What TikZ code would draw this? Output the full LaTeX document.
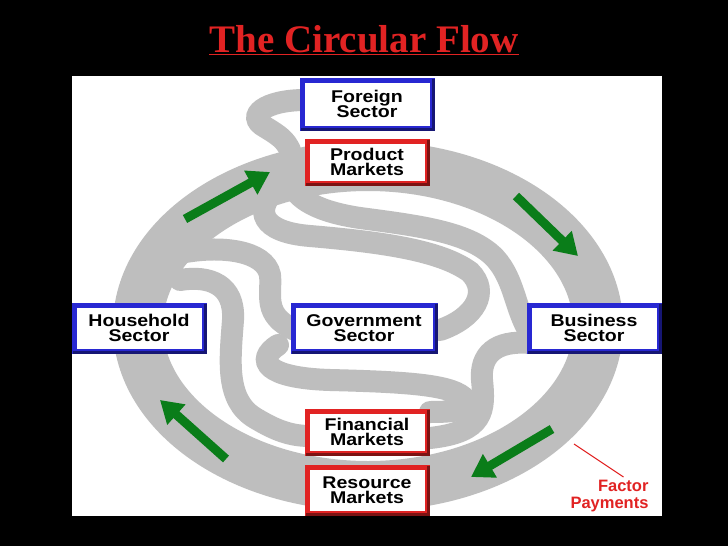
\documentclass[tikz,border=0pt]{standalone}
\usepackage{fontspec}
\setmainfont{Liberation Sans}
\newfontfamily\boxfont{Liberation Sans}[FakeStretch=1.15]
\newfontfamily\titlefont{Liberation Serif}
\usetikzlibrary{arrows.meta}
\definecolor{ring}{RGB}{190,190,190}
\definecolor{bblue}{RGB}{40,40,210}
\definecolor{bred}{RGB}{225,35,35}
\definecolor{agreen}{RGB}{10,125,25}
\begin{document}
\begin{tikzpicture}[x=1pt,y=-1pt,
  band/.style={ring,line width=22,line cap=round},
  flow/.style={agreen,line width=9,-{Triangle[length=22,width=26]}},
  sect/.style={draw=#1,line width=5,fill=white,minimum width=130,minimum height=46,
    align=center,font=\boxfont\bfseries\fontsize{17}{15.5}\selectfont,inner sep=0pt},
  shad/.style={#1!55!black,line width=3}]
\fill[black] (0,0) rectangle (728,546);
\fill[white] (72,76) rectangle (662,516);
\begin{scope}
\clip (72,76) rectangle (662,516);
% ring
\draw[ring,line width=50] (368,326) ellipse [x radius=230,y radius=160];
% foreign loop
\draw[band] (305,100) .. controls (265,100) and (245,116) .. (265,127) .. controls (280,136) and (285,140) .. (290,150);
% product -> business
\draw[band] (290,180) .. controls (295,200) and (320,212) .. (360,218) .. controls (420,226) and (470,232) .. (495,258) .. controls (515,280) and (515,310) .. (530,333);
% product -> government
\draw[band] (275,190) .. controls (255,210) and (260,232) .. (310,236) .. controls (380,242) and (440,250) .. (470,272) .. controls (490,292) and (475,318) .. (440,330);
% household -> government
\draw[band] (180,253) .. controls (220,245) and (265,250) .. (270,275) .. controls (272,295) and (262,315) .. (295,330);
% household -> financial
\draw[band] (180,280) .. controls (210,275) and (235,285) .. (233,320) .. controls (230,360) and (225,400) .. (255,418) .. controls (275,430) and (290,436) .. (310,436);
% government -> financial
\draw[band] (278,345) .. controls (255,360) and (265,378) .. (330,380) .. controls (410,382) and (455,385) .. (466,400) .. controls (470,410) and (455,412) .. (430,412);
% business -> financial
\draw[band] (530,343) .. controls (495,340) and (480,355) .. (482,380) .. controls (485,410) and (485,432) .. (430,438);
\end{scope}
% arrows
\draw[flow] (185,219) -- (270,172);
\draw[flow] (516,196) -- (578,256);
\draw[flow] (552,429) -- (471,477);
\draw[flow] (226,459) -- (160,400);
% factor payments
\coordinate (fp) at (574,444);
\node[bred,font=\bfseries\fontsize{16.5}{17}\selectfont,align=right,anchor=north east] (fpt) at (652,477) {Factor\\Payments};
\draw[bred,line width=1] (fp) -- ([xshift=14]fpt.north);
% boxes
\node[sect=bblue,minimum width=130,minimum height=48] (for) at (367,104) {Foreign\\Sector};
\node[sect=bred,minimum width=120,minimum height=42] (prod) at (367,162) {Product\\Markets};
\node[sect=bblue,minimum width=130,minimum height=46] (hh) at (139,328) {Household\\Sector};
\node[sect=bblue,minimum width=142,minimum height=46] (gov) at (364,328) {Government\\Sector};
\node[sect=bblue,minimum width=130,minimum height=46] (bus) at (594,328) {Business\\Sector};
\node[sect=bred,minimum width=120,minimum height=42] (fin) at (367,432) {Financial\\Markets};
\node[sect=bred,minimum width=120,minimum height=46] (res) at (367,490) {Resource\\Markets};
\foreach \n/\c in {for/bblue,hh/bblue,gov/bblue,bus/bblue,prod/bred,fin/bred,res/bred}{
  \draw[shad=\c] ([shift={(1.5,-1.5)}]\n.south west) -- ([shift={(-1.5,-1.5)}]\n.south east) -- ([shift={(-1.5,1.5)}]\n.north east);
}
% title
\node[bred,font=\titlefont\bfseries\fontsize{39}{39}\selectfont] (title) at (364,40) {\underline{The Circular Flow}};
\end{tikzpicture}
\end{document}
